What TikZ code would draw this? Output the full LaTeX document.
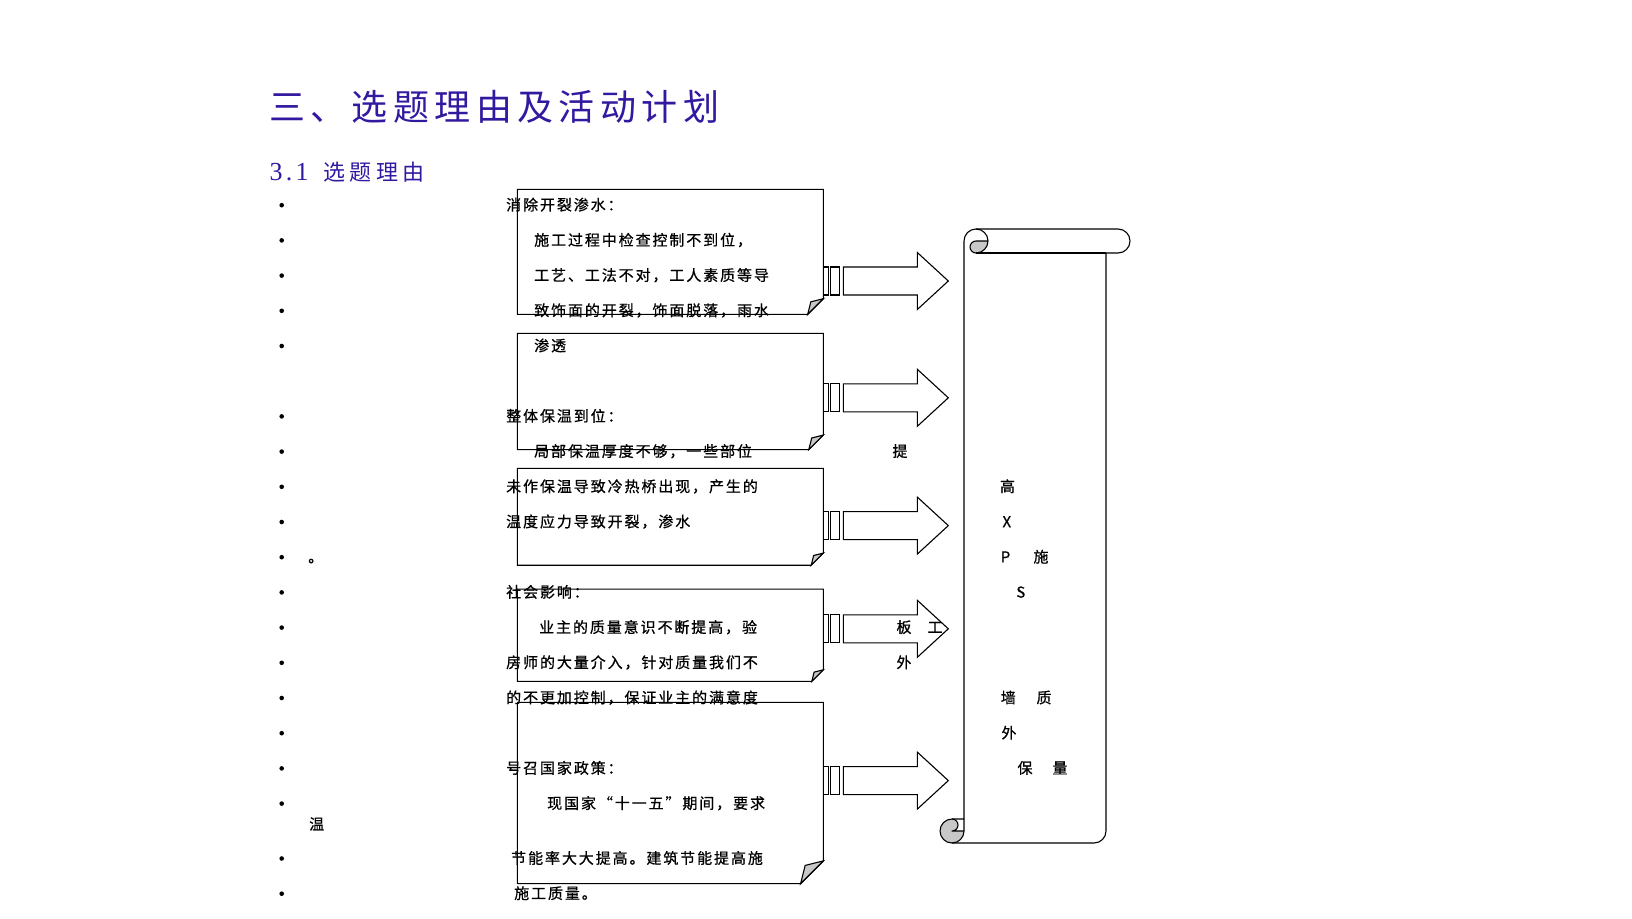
\documentclass[tikz,border=0pt]{standalone}
\usepackage{fontspec}
\setmainfont{Noto Sans CJK SC}
\newfontfamily\bodyfont[LetterSpace=12.7, FakeBold=0.7]{Noto Sans CJK SC}
\newfontfamily\titlefont[LetterSpace=15]{Noto Sans CJK SC}
\newfontfamily\subfont[LetterSpace=19]{Noto Sans CJK SC}
\newfontfamily\numfont{Liberation Serif}
\definecolor{titleblue}{HTML}{3318A0}
\definecolor{foldgray}{HTML}{C8C8C8}
\tikzset{
  shapeline/.style={draw=black, line width=1.1pt, line join=miter},
  scrollline/.style={draw=black, line width=1.1pt, line join=round},
  bodytext/.style={anchor=base west, inner sep=0pt, yshift=2pt, font=\bodyfont\fontsize{15pt}{15pt}\selectfont},
  sidetext/.style={anchor=base, inner sep=0pt, yshift=2pt, font=\bodyfont\fontsize{15pt}{15pt}\selectfont},
  titletext/.style={anchor=base west, inner sep=0pt, text=titleblue, font=\titlefont\fontsize{36pt}{36pt}\selectfont},
  subtext/.style={anchor=base west, inner sep=0pt, text=titleblue, font=\subfont\fontsize{22pt}{22pt}\selectfont},
}
\newcommand{\foldbox}[5]{%
  \pgfmathsetmacro{\fbx}{#3-#5}%
  \pgfmathsetmacro{\fby}{#4-#5}%
  \pgfmathsetmacro{\fbd}{#5/5}%
  \draw[shapeline, fill=white] (#1,#2) -- (#3,#2) -- (#3,\fby) -- (\fbx,#4) -- (#1,#4) -- cycle;
  \draw[shapeline, fill=foldgray] (\fbx,#4) -- ({\fbx+\fbd},{\fby+\fbd}) -- (#3,\fby) -- cycle;
}
\newcommand{\stripearrow}[1]{%
  \draw[shapeline, fill=white] (823.3,{#1-14}) rectangle (828.3,{#1+14});
  \draw[shapeline, fill=white] (830.7,{#1-14}) rectangle (839.3,{#1+14});
  \draw[shapeline, fill=white] (843.3,{#1-14}) -- (917.3,{#1-14}) -- (917.3,{#1-28.5}) -- (948.3,#1) -- (917.3,{#1+28.5}) -- (917.3,{#1+14}) -- (843.3,{#1+14}) -- cycle;
}
\begin{document}
\begin{tikzpicture}[x=1pt, y=-1pt]
\useasboundingbox (0,0) rectangle (1632,918);
\fill[white] (0,0) rectangle (1632,918);

% folded-corner boxes
\foldbox{517.3}{189.3}{823.3}{314.3}{15.6}
\foldbox{517.3}{333.3}{823.3}{449.6}{14.5}
\foldbox{517.3}{468.3}{823.3}{565.2}{12.1}
\foldbox{517.3}{589.1}{823.3}{681.3}{11.5}
\foldbox{517.3}{702.3}{823.3}{883.6}{22.7}

% striped arrows
\stripearrow{281}
\stripearrow{397.8}
\stripearrow{525.6}
\stripearrow{628.8}
\stripearrow{780.6}

% vertical scroll
\fill[white] (952,843) arc[start angle=90,end angle=0,radius=12] -- (964,241) arc[start angle=180,end angle=270,radius=12] -- (1118,229) arc[start angle=270,end angle=450,radius=12] -- (1106,253) -- (1106,831) arc[start angle=0,end angle=90,radius=12] -- cycle;
\fill[foldgray] (988,241) arc[start angle=0,end angle=90,radius=12] arc[start angle=90,end angle=270,radius=6] -- cycle;
\fill[foldgray] (964,831) arc[start angle=0,end angle=270,radius=12] arc[start angle=270,end angle=450,radius=6] -- cycle;
\draw[scrollline] (964,819) -- (964,241) arc[start angle=180,end angle=270,radius=12] -- (1118,229) arc[start angle=270,end angle=450,radius=12] -- (1106,253) -- (1106,831) arc[start angle=0,end angle=90,radius=12] -- (952,843) arc[start angle=90,end angle=270,radius=12] -- cycle;
\draw[scrollline] (976,229) arc[start angle=270,end angle=450,radius=12] arc[start angle=90,end angle=270,radius=6] -- (988,241);
\draw[scrollline] (1106,253) -- (976,253);
\draw[scrollline] (952,819) arc[start angle=270,end angle=450,radius=6] -- (964,831);
\draw[scrollline] (952,843) arc[start angle=90,end angle=0,radius=12] -- (964,819);

% titles
\node[titletext] (title) at (269,120.7) {三、选题理由及活动计划};
\node[subtext] (subtitle) at (269.5,180.1) {{\numfont\fontsize{26pt}{26pt}\selectfont\makebox[13pt]{3}\makebox[13pt]{.}\makebox[13pt]{1}\hspace{15pt}}选题理由};

% bullets
\foreach \by in {205.2,240.4,275.6,310.8,346.0,416.4,451.6,486.8,522.0,557.2,592.4,627.6,662.8,698.0,733.2,768.4,803.6,858.5,893.7}
  \fill (281.7,\by) circle[radius=2.3];

% body text
\node[bodytext] (t1) at (506,212.4) {消除开裂渗水：};
\node[bodytext] (t2) at (534,247.6) {施工过程中检查控制不到位，};
\node[bodytext] (t3) at (534,282.8) {工艺、工法不对，工人素质等导};
\node[bodytext] (t4) at (534,318.0) {致饰面的开裂，饰面脱落，雨水};
\node[bodytext] (t5) at (534,353.2) {渗透};
\node[bodytext] (t7) at (506,423.6) {整体保温到位：};
\node[bodytext] (t8) at (534,458.8) {局部保温厚度不够，一些部位};
\node[bodytext] (t9) at (506,494.0) {未作保温导致冷热桥出现，产生的};
\node[bodytext] (t10) at (506,529.2) {温度应力导致开裂，渗水};
\node[bodytext] (t11) at (308,564.4) {。};
\node[bodytext] (t12) at (506,599.6) {社会影响：};
\node[bodytext] (t13) at (539,634.8) {业主的质量意识不断提高，验};
\node[bodytext] (t14) at (506,670.0) {房师的大量介入，针对质量我们不};
\node[bodytext] (t15) at (506,705.2) {的不更加控制，保证业主的满意度};
\node[bodytext] (t17) at (506,775.6) {号召国家政策：};
\node[bodytext] (t18) at (547,810.8) {现国家“十一五”期间，要求};
\node[bodytext] (t18b) at (309,831.7) {温};
\node[bodytext] (t19) at (511,865.7) {节能率大大提高。建筑节能提高施};
\node[bodytext] (t20) at (514,900.9) {施工质量。};

% side labels
\node[sidetext] (s1) at (900,458.8) {提};
\node[sidetext] (s2) at (1007.5,494.0) {高};
\node[sidetext] (s3) at (1006.8,529.2) {X};
\node[sidetext] (s4) at (1005.5,564.4) {P};
\node[sidetext] (s5) at (1041,564.4) {施};
\node[sidetext] (s6) at (1020.8,599.6) {S};
\node[sidetext] (s7) at (904,634.8) {板};
\node[sidetext] (s8) at (935,634.8) {工};
\node[sidetext] (s9) at (904,670.0) {外};
\node[sidetext] (s10) at (1008.3,705.2) {墙};
\node[sidetext] (s11) at (1044,705.2) {质};
\node[sidetext] (s12) at (1009,740.4) {外};
\node[sidetext] (s13) at (1025,775.6) {保};
\node[sidetext] (s14) at (1060,775.6) {量};
\end{tikzpicture}
\end{document}
